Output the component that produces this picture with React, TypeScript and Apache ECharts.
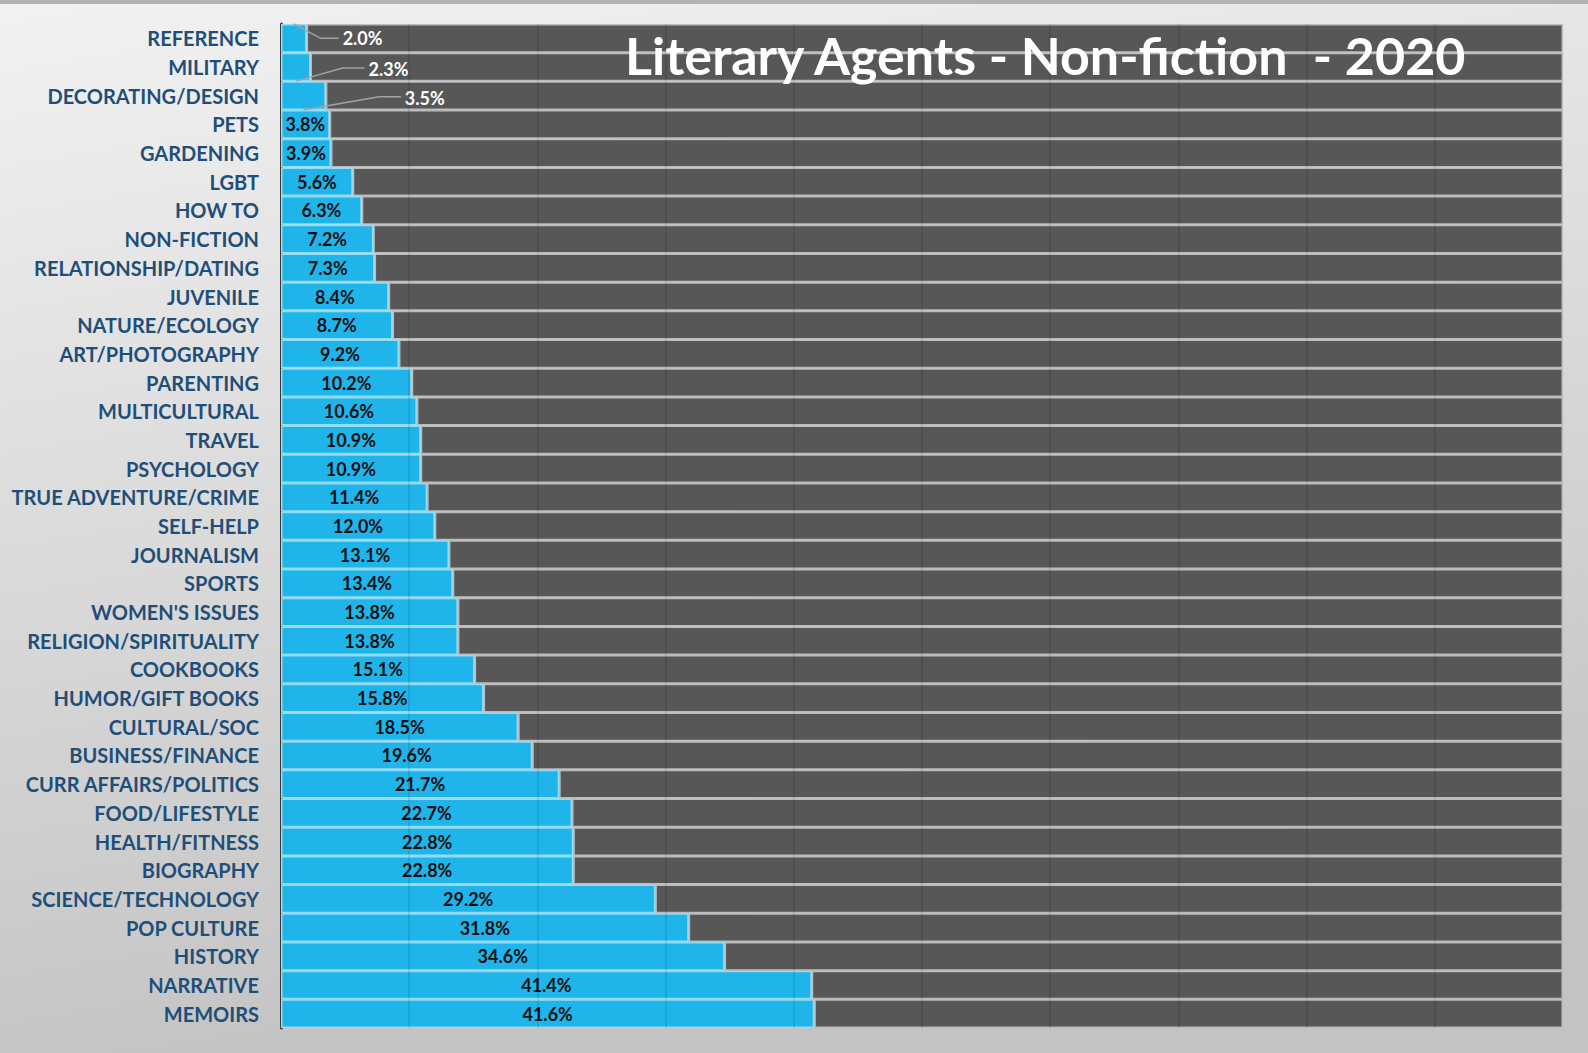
import React, { useEffect, useRef } from "react";
import * as echarts from "echarts";

const CATEGORIES = [
  "REFERENCE", "MILITARY", "DECORATING/DESIGN", "PETS", "GARDENING", "LGBT", "HOW TO",
  "NON-FICTION", "RELATIONSHIP/DATING", "JUVENILE", "NATURE/ECOLOGY", "ART/PHOTOGRAPHY",
  "PARENTING", "MULTICULTURAL", "TRAVEL", "PSYCHOLOGY", "TRUE ADVENTURE/CRIME", "SELF-HELP",
  "JOURNALISM", "SPORTS", "WOMEN'S ISSUES", "RELIGION/SPIRITUALITY", "COOKBOOKS",
  "HUMOR/GIFT BOOKS", "CULTURAL/SOC", "BUSINESS/FINANCE", "CURR AFFAIRS/POLITICS",
  "FOOD/LIFESTYLE", "HEALTH/FITNESS", "BIOGRAPHY", "SCIENCE/TECHNOLOGY", "POP CULTURE",
  "HISTORY", "NARRATIVE", "MEMOIRS",
];

const PERCENTS = [
  2.0, 2.3, 3.5, 3.8, 3.9, 5.6, 6.3, 7.2, 7.3, 8.4, 8.7, 9.2, 10.2, 10.6, 10.9, 10.9, 11.4,
  12.0, 13.1, 13.4, 13.8, 13.8, 15.1, 15.8, 18.5, 19.6, 21.7, 22.7, 22.8, 22.8, 29.2, 31.8,
  34.6, 41.4, 41.6,
];

const TOTAL = 100;
const GRID_TICKS = [10, 20, 30, 40, 50, 60, 70, 80, 90];
// horizontal shift (px) of the three outside labels, and whether the leader starts at the top edge
const OUTSIDE_SHIFT = [31, 53, 74];
const OUTSIDE_DY = [0, 2, 2];
const LEADER_FROM_TOP = [true, false, false];

const TITLE = "Literary Agents - Non-fiction  - 2020";
const FONT = "Lato, 'Open Sans', sans-serif";

export default function App() {
  const ref = useRef<HTMLDivElement>(null);

  useEffect(() => {
    if (!ref.current) return;
    const chart = echarts.init(ref.current, null, { renderer: "svg" });

    const blueData = PERCENTS.map((v, i) =>
      i < OUTSIDE_SHIFT.length
        ? {
            value: v,
            label: { position: "right", color: "#ffffff", distance: 5 },
          }
        : { value: v }
    );

    const restData = PERCENTS.map((v) => +(TOTAL - v).toFixed(1));

    const baseGraphic: any[] = [
      {
        type: "rect",
        left: 0,
        top: 0,
        shape: { width: 1588, height: 4 },
        style: { fill: "#b3b3b3" },
      },
      {
        type: "text",
        left: 625,
        top: 29,
        z: 100,
        style: {
          text: TITLE,
          fill: "#ffffff",
          font: `bold 52px ${FONT}`,
        },
      },
    ];

    const gridTop = 24;
    const gridBottom = 25;

    chart.setOption({
      animation: false,
      backgroundColor: {
        type: "linear",
        x: 0,
        y: 0,
        x2: 0.25,
        y2: 1,
        colorStops: [
          { offset: 0, color: "#f2f2f2" },
          { offset: 1, color: "#c3c3c3" },
        ],
      },
      graphic: baseGraphic,
      grid: { left: 281, right: 25, top: gridTop, bottom: gridBottom },
      xAxis: {
        type: "value",
        min: 0,
        max: TOTAL,
        interval: 10,
        axisLabel: { show: false },
        axisLine: { show: false },
        axisTick: { show: false },
        splitLine: { show: false },
      },
      yAxis: {
        type: "category",
        data: CATEGORIES,
        inverse: true,
        axisTick: { show: false },
        axisLine: { show: true, lineStyle: { color: "#3a3a3a", width: 3 } },
        axisLabel: {
          color: "#1F4E79",
          fontFamily: FONT,
          fontWeight: "bold",
          fontSize: 20,
          margin: 22,
        },
      },
      series: [
        {
          type: "bar",
          name: "share",
          stack: "total",
          barWidth: "100%",
          barCategoryGap: "0%",
          data: blueData,
          itemStyle: { color: "#1FB5EB", borderColor: "#93dcf6", borderWidth: 1.5 },
          label: {
            show: true,
            position: "inside",
            color: "#111111",
            fontFamily: FONT,
            fontWeight: "bold",
            fontSize: 18,
            formatter: (p: any) => Number(p.value).toFixed(1) + "%",
          },
          labelLayout: (params: any) => {
            const i = params.dataIndex;
            if (i < OUTSIDE_SHIFT.length) {
              return { dx: OUTSIDE_SHIFT[i], dy: OUTSIDE_DY[i] };
            }
            return {};
          },
        },
        {
          type: "bar",
          name: "rest",
          stack: "total",
          barWidth: "100%",
          barCategoryGap: "0%",
          data: restData,
          silent: true,
          itemStyle: { color: "#575757", borderColor: "#bcbcbc", borderWidth: 1.5 },
          label: { show: false },
          markLine: {
            silent: true,
            symbol: ["none", "none"],
            label: { show: false },
            lineStyle: { color: "rgba(0,0,0,0.13)", width: 1.5, type: "solid" },
            data: GRID_TICKS.map((t) => ({ xAxis: t })),
          },
        },
      ],
    });

    // leader lines for the three labels placed outside their bars
    const h = chart.getHeight() - gridTop - gridBottom;
    const half = h / CATEGORIES.length / 2;
    const leaders: any[] = [];
    for (let i = 0; i < OUTSIDE_SHIFT.length; i++) {
      const v = PERCENTS[i];
      const mid = chart.convertToPixel({ gridIndex: 0 }, [v / 2, i]) as number[];
      const end = chart.convertToPixel({ gridIndex: 0 }, [v, i]) as number[];
      const labelLeft = end[0] + 5 + OUTSIDE_SHIFT[i];
      const labelY = mid[1] + OUTSIDE_DY[i];
      const startY = LEADER_FROM_TOP[i] ? mid[1] - half : mid[1] + half;
      const elbowX = labelLeft - (i === 0 ? 22 : 26);
      leaders.push({
        type: "polyline",
        z: 50,
        silent: true,
        shape: {
          points: [
            [mid[0], startY],
            [elbowX, labelY - (i === 0 ? 0 : 1)],
            [labelLeft - 4, labelY - (i === 0 ? 0 : 1)],
          ],
        },
        style: { stroke: "#a3a3a3", lineWidth: 1.5, fill: "none" },
      });
    }
    chart.setOption({ graphic: [...baseGraphic, ...leaders] });

    return () => chart.dispose();
  }, []);

  return (
    <div
      ref={ref}
      style={{ position: "fixed", left: 0, top: 0, width: "100vw", height: "100vh" }}
    />
  );
}
